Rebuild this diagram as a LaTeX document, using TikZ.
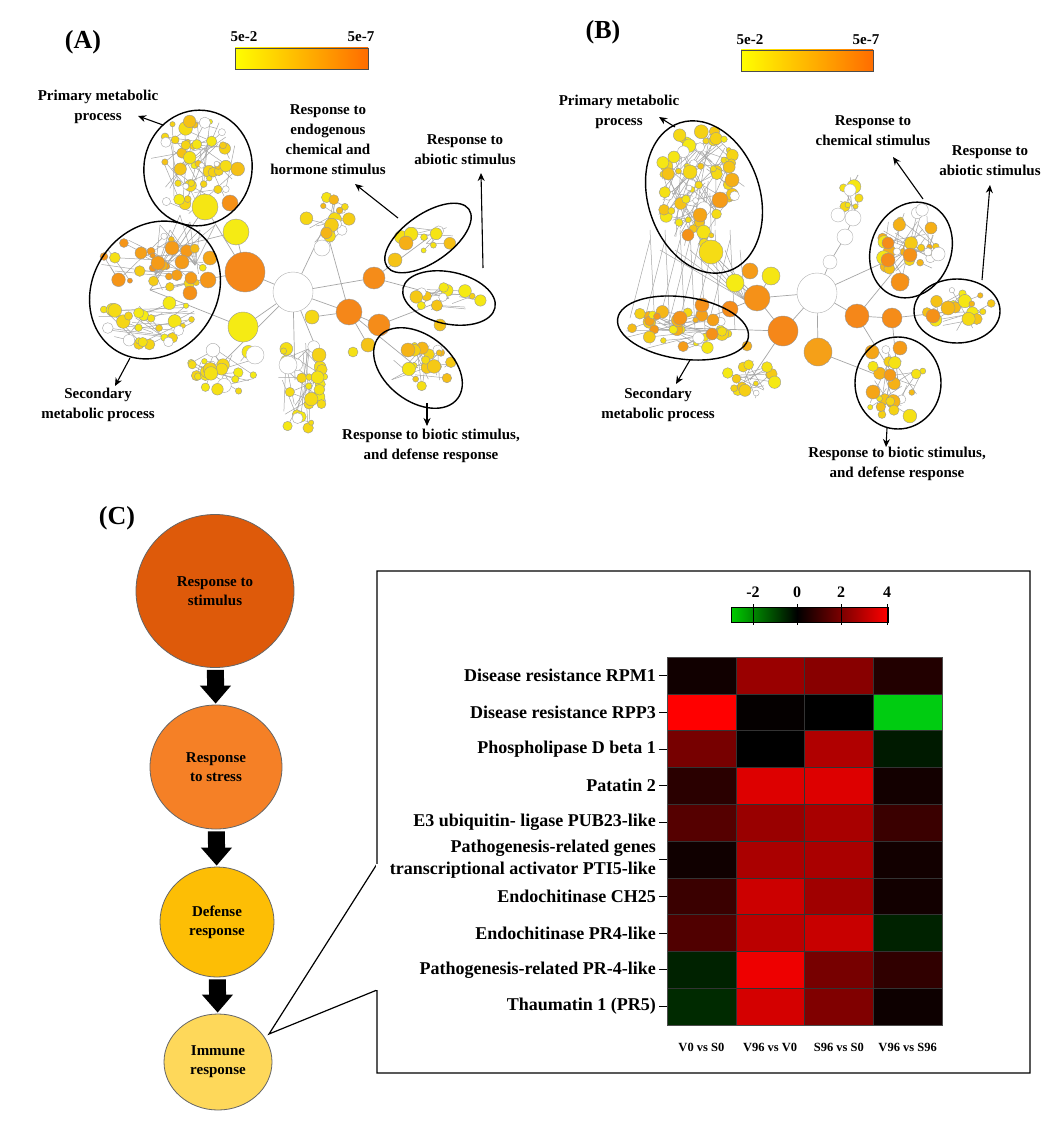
\documentclass[tikz,border=0pt]{standalone}
\usepackage{fontspec}
\setmainfont{Liberation Serif}
\usetikzlibrary{arrows.meta,shapes.geometric}
\definecolor{ylw}{RGB}{245,235,20}
\definecolor{org}{RGB}{245,135,25}
\definecolor{c1}{RGB}{222,90,10}
\definecolor{c2}{RGB}{245,128,38}
\definecolor{c3}{RGB}{253,190,5}
\definecolor{c4}{RGB}{254,216,90}
\tikzset{
 lbl/.style={font=\fontsize{15}{20}\selectfont\bfseries,align=center,inner sep=0pt},
 ring/.style={draw=black,line width=1.4pt},
 larr/.style={-{Stealth[length=8pt,width=7pt]},line width=1.1pt},
 edge/.style={draw=black!35,line width=0.5pt},
 nd/.style={circle,draw=black!40,line width=0.4pt,inner sep=0pt},
 cnode/.style={ellipse,draw=black!60,line width=0.8pt,font=\fontsize{15}{19}\selectfont\bfseries,align=center,inner sep=0pt},
 blk/.style={-{Triangle[width=30pt,length=18pt]},line width=17pt,shorten >=1pt,shorten <=2pt},
 rowl/.style={font=\fontsize{18}{22}\selectfont\bfseries,anchor=east,align=right,inner sep=0pt},
 coll/.style={font=\fontsize{12.5}{15}\selectfont\bfseries,inner sep=0pt},
}
% cx cy rx ry n seed orange-amount
\newcommand\netcl[7]{%
 \pgfmathsetseed{#6}%
 \foreach \i in {1,...,#5}{%
  \pgfmathsetmacro\aa{rnd*360}\pgfmathsetmacro\rr{sqrt(rnd)}%
  \pgfmathsetmacro\ab{rnd*360}\pgfmathsetmacro\rb{sqrt(rnd)}%
  \pgfmathsetmacro\sz{rnd}\pgfmathsetmacro\mx{rnd}\pgfmathsetmacro\wh{rnd}%
  \draw[edge] ({#1+#3*\rr*cos(\aa)},{#2+#4*\rr*sin(\aa)}) -- ({#1+#3*\rb*cos(\ab)},{#2+#4*\rb*sin(\ab)});}%
 \pgfmathsetseed{#6}%
 \foreach \i in {1,...,#5}{%
  \pgfmathsetmacro\aa{rnd*360}\pgfmathsetmacro\rr{sqrt(rnd)}%
  \pgfmathsetmacro\ab{rnd*360}\pgfmathsetmacro\rb{sqrt(rnd)}%
  \pgfmathsetmacro\sz{2.5+rnd*4.5}\pgfmathsetmacro\mx{100-rnd*#7}\pgfmathsetmacro\wh{rnd}%
  \ifdim\wh pt<0.18pt
   \filldraw[fill=white,draw=black!35,line width=0.4pt] ({#1+#3*\rr*cos(\aa)},{#2+#4*\rr*sin(\aa)}) circle (\sz);
  \else
   \filldraw[fill=ylw!\mx!org,draw=black!40,line width=0.4pt] ({#1+#3*\rr*cos(\aa)},{#2+#4*\rr*sin(\aa)}) circle (\sz);
  \fi}%
}
\begin{document}
\begin{tikzpicture}[x=1pt,y=-1pt]
\useasboundingbox[fill=white] (0,0) rectangle (1055,1121);

%================ Panel A =================
\node[font=\fontsize{26}{28}\selectfont\bfseries] (A) at (83,42) {(A)};
\shade[left color=yellow,right color=orange!85!red,draw=black!70] (235,48) rectangle (368,69);
\node[font=\fontsize{15}{16}\selectfont\bfseries] (a5a) at (244,37) {5e-2};
\node[font=\fontsize{15}{16}\selectfont\bfseries] (a5b) at (361,37) {5e-7};

\foreach \xa/\ya/\xb/\yb in {245/272/293/292, 245/272/205/207, 245/272/236/232, 293/292/243/327, 293/292/349/312, 293/292/374/278, 349/312/379/325, 349/312/418/368, 374/278/428/238, 379/325/449/298, 293/292/325/225, 293/292/220/365, 293/292/295/380, 243/327/150/290, 245/272/150/290, 205/207/150/290, 236/232/172/248, 349/312/312/317, 374/278/449/298, 293/292/319/355, 349/312/368/345, 325/225/349/312}
 {\draw[edge,line width=0.7pt] (\xa,\ya) -- (\xb,\yb);}
\foreach \x/\y in {180/215,190/222,170/230,215/225,200/230,160/225,175/240}
 {\draw[edge] (\x,\y) -- (155,275); \draw[edge] (\x,\y) -- (195,265);}

\netcl{198}{165}{48}{50}{45}{11}{45}
\netcl{152}{265}{55}{30}{22}{12}{90}
\netcl{148}{320}{50}{25}{28}{13}{30}
\netcl{327}{220}{22}{28}{14}{14}{60}
\netcl{225}{368}{35}{25}{20}{15}{25}
\netcl{300}{385}{28}{50}{26}{16}{25}
\netcl{428}{238}{35}{14}{8}{17}{70}
\netcl{450}{298}{35}{14}{12}{18}{45}
\netcl{418}{368}{35}{24}{18}{19}{55}

\foreach \x/\y/\r/\m in {245/272/20/0, 243/327/15/100, 349/312/13/0, 379/325/11/5, 374/278/11/5, 236/232/13/100, 205/207/13/95, 230/203/8/10,
  172/248/7/20, 208/280/8/15, 190/293/7/10, 182/262/7/20, 141/253/6/25, 158/263/7/20, 210/258/7/30, 191/278/6/20,
  312/317/7/80, 319/355/7/75, 368/345/7/60, 353/352/5/90, 406/243/7/40, 395/260/7/60, 408/350/7/45, 440/325/6/60}
 {\node[nd,minimum size=2*\r,fill=ylw!\m!org] at (\x,\y) {};}
\node[nd,minimum size=40,fill=white,draw=black!30] (bpA) at (293,292) {};
\node[nd,minimum size=16,fill=white,draw=black!30] at (322,248) {};
\node[nd,minimum size=18,fill=white,draw=black!30] at (255,355) {};
\node[nd,minimum size=18,fill=white,draw=black!30] at (288,365) {};

\draw[ring,rotate around={-12:(198,168)}] (198,168) ellipse (54 and 58);
\draw[ring,rotate around={55:(155,290)}] (155,290) ellipse (72 and 62);
\draw[ring,rotate around={35:(428,238)}] (428,238) ellipse (50 and 24);
\draw[ring,rotate around={-12:(449,298)}] (449,298) ellipse (47 and 26);
\draw[ring,rotate around={-38:(418,368)}] (418,368) ellipse (50 and 33);

\node[lbl] (pA) at (98,107) {Primary metabolic\\process};
\node[lbl] (sA) at (98,405) {Secondary\\metabolic process};
\node[lbl] (eA) at (328,140) {Response to\\endogenous\\chemical and\\hormone stimulus};
\node[lbl] (abA) at (465,150) {Response to\\abiotic stimulus};
\node[lbl] (bA) at (431,446) {Response to biotic stimulus,\\and defense response};
\coordinate (pA1) at (163,125); \coordinate (pA2) at (138,116);
\coordinate (sA1) at (130,358); \coordinate (sA2) at (115,386);
\coordinate (eA1) at (398,218); \coordinate (eA2) at (355,184);
\coordinate (abA1) at (483,268); \coordinate (abA2) at (481,173);
\coordinate (bA1) at (427,403); \coordinate (bA2) at (427,426);
\draw[larr] (pA1) -- (pA2);
\draw[larr] (sA1) -- (sA2);
\draw[larr] (eA1) -- (eA2);
\draw[larr] (abA1) -- (abA2);
\draw[larr] (bA1) -- (bA2);

%================ Panel B =================
\node[font=\fontsize{26}{28}\selectfont\bfseries] (B) at (603,32) {(B)};
\shade[left color=yellow,right color=orange!85!red,draw=black!70] (741,50) rectangle (873,71);
\node[font=\fontsize{15}{16}\selectfont\bfseries] (b5a) at (750,40) {5e-2};
\node[font=\fontsize{15}{16}\selectfont\bfseries] (b5b) at (866,40) {5e-7};

\foreach \xa/\ya/\xb/\yb in {817/293/783/331, 817/293/818/352, 817/293/757/298, 817/293/857/316, 857/316/892/318, 783/331/757/298, 757/298/711/252, 757/298/735/283, 757/298/771/276, 892/318/957/311, 857/316/911/250, 817/293/911/250, 857/316/898/383, 783/331/683/328, 757/298/683/328, 783/331/750/380, 818/352/898/383, 817/293/830/262, 830/262/845/237, 845/237/853/218, 853/218/850/190, 850/190/858/175, 892/318/898/383}
 {\draw[edge,line width=0.7pt] (\xa,\ya) -- (\xb,\yb);}
\foreach \x in {650,665,680,690,700,715,730}
 {\draw[edge] (\x,240) -- (\x-20,318); \draw[edge] (\x,230) -- (\x+5,330); \draw[edge] (\x+10,250) -- (745,300);}
\netcl{700}{190}{45}{62}{60}{21}{45}
\netcl{675}{330}{55}{22}{28}{22}{85}
\netcl{911}{245}{30}{38}{26}{23}{70}
\netcl{960}{310}{34}{22}{16}{24}{60}
\netcl{898}{385}{34}{40}{20}{25}{60}
\netcl{750}{380}{25}{20}{14}{26}{35}
\netcl{852}{195}{15}{20}{6}{27}{20}

\foreach \x/\y/\r/\m in {783/331/15/0, 818/352/14/25, 757/298/13/10, 857/316/12/0, 892/318/10/5, 735/283/9/100, 771/276/9/95, 750/271/8/20, 711/252/12/85,
  700/215/7/30, 720/200/8/20, 688/235/6/10, 732/180/7/40, 690/172/7/80, 680/318/7/15, 702/305/7/10, 730/309/8/5, 713/320/6/25, 712/334/6/10,
  888/243/6/5, 888/260/7/5, 910/255/7/10, 900/282/9/10, 931/228/6/40, 933/316/7/10, 900/348/7/20, 872/352/7/30, 890/375/6/20, 873/392/7/30, 948/308/7/50,
  747/346/5/40}
 {\node[nd,minimum size=2*\r,fill=ylw!\m!org] at (\x,\y) {};}
\node[nd,minimum size=40,fill=white,draw=black!30] (bpB) at (817,293) {};
\foreach \x/\y/\r in {830/262/7,845/237/8,853/218/8,838/215/7,850/190/6}
 {\node[nd,minimum size=2*\r,fill=white,draw=black!30] at (\x,\y) {};}

\draw[ring,rotate around={18:(704,197)}] (704,197) ellipse (56 and 78);
\draw[ring,rotate around={-8:(683,328)}] (683,328) ellipse (66 and 31);
\draw[ring,rotate around={-22:(911,250)}] (911,250) ellipse (40 and 49);
\draw[ring] (957,311) ellipse (43 and 32);
\draw[ring] (898,383) ellipse (43 and 46);

\node[lbl] (pB) at (619,112) {Primary metabolic\\process};
\node[lbl] (sB) at (658,405) {Secondary\\metabolic process};
\node[lbl] (cB) at (873,131) {Response to\\chemical stimulus};
\node[lbl] (abB) at (990,161) {Response to\\abiotic stimulus};
\node[lbl] (bB) at (897,464) {Response to biotic stimulus,\\and defense response};
\coordinate (pB1) at (675,127); \coordinate (pB2) at (659,117);
\coordinate (sB1) at (690,360); \coordinate (sB2) at (676,384);
\coordinate (cB1) at (923,199); \coordinate (cB2) at (893,157);
\coordinate (abB1) at (982,280); \coordinate (abB2) at (990,185);
\coordinate (bB1) at (887,428); \coordinate (bB2) at (886,447);
\draw[larr] (pB1) -- (pB2);
\draw[larr] (sB1) -- (sB2);
\draw[larr] (cB1) -- (cB2);
\draw[larr] (abB1) -- (abB2);
\draw[larr] (bB1) -- (bB2);

%================ Panel C =================
\node[font=\fontsize{26}{28}\selectfont\bfseries] (C) at (117,518) {(C)};
\node[cnode,fill=c1,minimum width=158,minimum height=153] (r1) at (215,591) {Response to\\stimulus};
\node[cnode,fill=c2,minimum width=132,minimum height=124] (r2) at (216,767) {Response\\to stress};
\node[cnode,fill=c3,minimum width=114,minimum height=110] (r3) at (217,922) {Defense\\response};
\node[cnode,fill=c4,minimum width=108,minimum height=96] (r4) at (218,1062) {Immune\\response};
\draw[blk] (r1) -- (r2);
\draw[blk] (r2) -- (r3);
\draw[blk] (r3) -- (r4);

% callout box
\coordinate (bxa) at (377,864);
\coordinate (bxb) at (377,990);
\coordinate (tip) at (269,1034);
\draw[line width=1.2pt,line join=miter] (bxa) -- (377,571) -- (1030,571) -- (1030,1073) -- (377,1073) -- (bxb) -- (tip) -- cycle;
\draw[line width=1.4pt,white] (bxa) -- (bxb);

% colour bar
\shade[left color=green!80!black,right color=black,draw=none] (731,607) rectangle (797,622);
\shade[left color=black,right color=red,draw=none] (797,607) rectangle (888,622);
\draw[line width=0.8pt] (731,607) rectangle (888,622);
\foreach \x/\t in {753/-2,797/0,841/2,887/4}{
 \draw[line width=1pt] (\x,604) -- (\x,625);
 \node[font=\fontsize{16}{16}\selectfont\bfseries] at (\x,592) {\t};}

% heatmap
\foreach \r/\a/\b/\c/\d in {0/110000/990000/880000/220000, 1/FF0000/050000/000000/00CC11, 2/770000/000000/B00000/001A00, 3/2A0000/DD0000/DD0000/130000, 4/550000/990000/A80000/3A0000, 5/100000/AA0000/AA0000/120000, 6/3A0000/CC0000/A00000/120000, 7/500000/BB0000/C80000/002200, 8/002200/EE0000/770000/300000, 9/002A00/D40000/800000/0D0000}{
 \definecolor{h1}{HTML}{\a}\definecolor{h2}{HTML}{\b}\definecolor{h3}{HTML}{\c}\definecolor{h4}{HTML}{\d}
 \fill[h1] (667,{657+36.8*\r}) rectangle (735.75,{657+36.8*(\r+1)});
 \fill[h2] (735.75,{657+36.8*\r}) rectangle (804.5,{657+36.8*(\r+1)});
 \fill[h3] (804.5,{657+36.8*\r}) rectangle (873.25,{657+36.8*(\r+1)});
 \fill[h4] (873.25,{657+36.8*\r}) rectangle (942,{657+36.8*(\r+1)});
 \draw[black!80,line width=0.3pt] (667,{657+36.8*\r}) -- (942,{657+36.8*\r});
 \draw[line width=0.8pt] (659,{657+36.8*(\r+0.5)}) -- (667,{657+36.8*(\r+0.5)});
}
\foreach \x in {735.75,804.5,873.25}{\draw[black!80,line width=0.3pt] (\x,657) -- (\x,1025);}
\draw[black!70,line width=0.8pt] (667,657) rectangle (942,1025);

\foreach \r/\t in {0/Disease resistance RPM1, 1/Disease resistance RPP3, 2/Phospholipase D beta 1, 3/Patatin 2, 4/E3 ubiquitin- ligase PUB23-like, 5/{Pathogenesis-related genes\\transcriptional activator  PTI5-like}, 6/Endochitinase CH25, 7/Endochitinase PR4-like, 8/Pathogenesis-related PR-4-like, 9/Thaumatin 1 (PR5)}
 {\node[rowl] at (656,{657+36.8*(\r+0.5)}) {\t};}

\foreach \i/\t in {0/V0 vs S0,1/V96 vs V0,2/S96 vs S0,3/V96 vs S96}
 {\node[coll] at ({701.4+68.75*\i},1047) {\t};}
\end{tikzpicture}
\end{document}
